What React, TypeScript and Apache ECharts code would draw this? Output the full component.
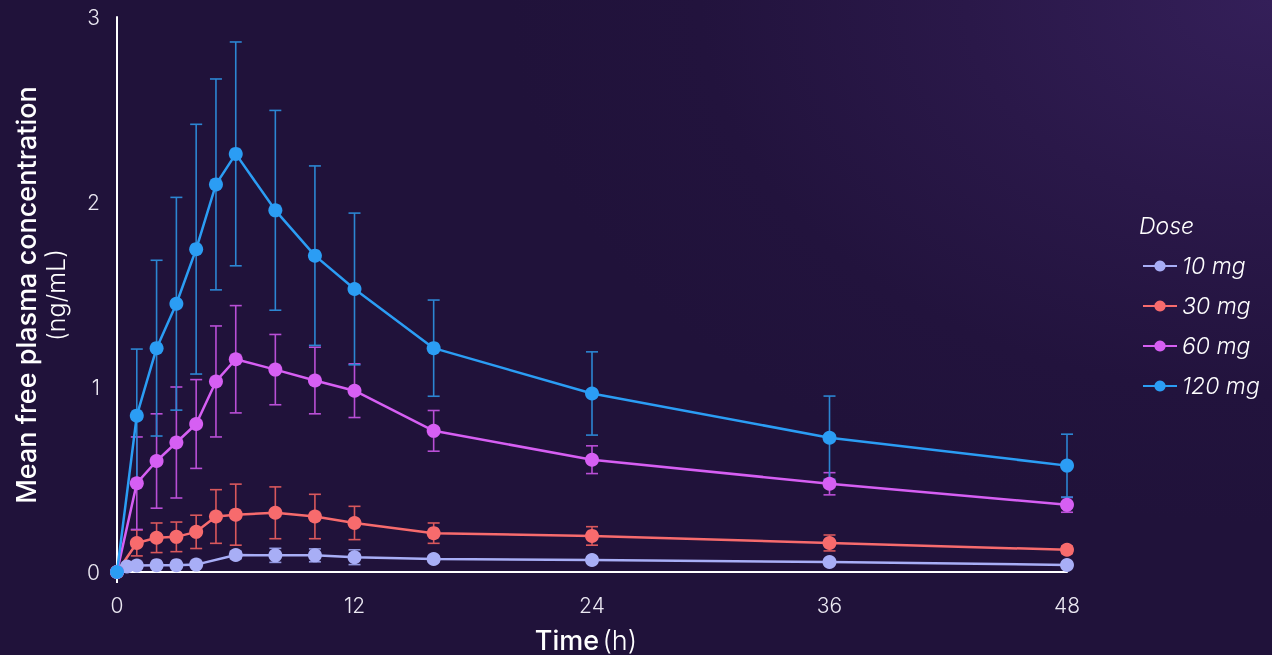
import React, { useEffect, useRef } from "react";
import * as echarts from "echarts";

const times = [0, 1, 2, 3, 4, 5, 6, 8, 10, 12, 16, 24, 36, 48];
const times10 = [0, 0.5, 1, 2, 3, 4, 6, 8, 10, 12, 16, 24, 36, 48];

const mean10 = [0, 0.03, 0.035, 0.037, 0.037, 0.04, 0.092, 0.09, 0.09, 0.08, 0.07, 0.065, 0.054, 0.038];
const sd10 = [0, 0.01, 0.01, 0.01, 0.01, 0.01, 0.02, 0.038, 0.035, 0.04, 0.015, 0.015, 0.01, 0.01];

const mean30 = [0, 0.157, 0.185, 0.19, 0.217, 0.3, 0.31, 0.32, 0.3, 0.265, 0.21, 0.195, 0.157, 0.12];
const sd30 = [0, 0.07, 0.08, 0.08, 0.09, 0.145, 0.165, 0.14, 0.12, 0.09, 0.055, 0.05, 0.043, 0.02];

const mean60 = [0, 0.48, 0.6, 0.7, 0.8, 1.03, 1.15, 1.094, 1.035, 0.98, 0.763, 0.607, 0.477, 0.363];
const sd60 = [0, 0.25, 0.255, 0.3, 0.24, 0.3, 0.29, 0.19, 0.18, 0.145, 0.11, 0.075, 0.06, 0.04];

const mean120 = [0, 0.845, 1.21, 1.45, 1.745, 2.095, 2.26, 1.955, 1.71, 1.53, 1.21, 0.965, 0.726, 0.575];
const sd120 = [0, 0.36, 0.475, 0.575, 0.675, 0.57, 0.605, 0.54, 0.485, 0.41, 0.26, 0.225, 0.225, 0.17];

const doseNames = ["10 mg", "30 mg", "60 mg", "120 mg"];
const doseColors = ["#a8aef6", "#f76b6d", "#d65ff3", "#2b9df4"];
const errColors = ["#8f95dc", "#d9585c", "#b94fd6", "#2c86d2"];

const xTicks = [0, 12, 24, 36, 48];
const yTicks = [0, 1, 2, 3];

const FONT = "Inter, 'Noto Sans', sans-serif";

export default function App() {
  const ref = useRef<HTMLDivElement>(null);
  useEffect(() => {
    if (!ref.current) return;
    const chart = echarts.init(ref.current, undefined, { renderer: "svg" });
    const groups = [
      { t: times10, m: mean10, s: sd10 },
      { t: times, m: mean30, s: sd30 },
      { t: times, m: mean60, s: sd60 },
      { t: times, m: mean120, s: sd120 },
    ];
    const series: any[] = [];
    groups.forEach((g, i) => {
      series.push({
        type: "custom",
        name: doseNames[i] + " SD",
        z: 1,
        silent: true,
        encode: { x: 0, y: [1, 2] },
        data: g.t.map((t, k) => [t, g.m[k] - g.s[k], g.m[k] + g.s[k]]),
        renderItem: (params: any, api: any) => {
          const lo = api.coord([api.value(0), api.value(1)]);
          const hi = api.coord([api.value(0), api.value(2)]);
          const w = 6;
          const st = { stroke: errColors[i], lineWidth: 1.6 };
          return {
            type: "group",
            children: [
              { type: "line", shape: { x1: lo[0], y1: lo[1], x2: hi[0], y2: hi[1] }, style: st },
              { type: "line", shape: { x1: lo[0] - w, y1: lo[1], x2: lo[0] + w, y2: lo[1] }, style: st },
              { type: "line", shape: { x1: hi[0] - w, y1: hi[1], x2: hi[0] + w, y2: hi[1] }, style: st },
            ],
          };
        },
      });
    });
    groups.forEach((g, i) => {
      series.push({
        type: "line",
        name: doseNames[i],
        z: 3,
        data: g.t.map((t, k) => [t, g.m[k]]),
        symbol: "circle",
        symbolSize: 14,
        showSymbol: true,
        lineStyle: { color: doseColors[i], width: 2.5 },
        itemStyle: { color: doseColors[i] },
      });
    });

    chart.setOption({
      animation: false,
      backgroundColor: "transparent",
      textStyle: { fontFamily: FONT },
      grid: { left: 117, right: 205, top: 17, bottom: 83, containLabel: false },
      xAxis: {
        type: "value",
        min: xTicks[0],
        max: xTicks[xTicks.length - 1],
        interval: 12,
        axisLine: { show: true, lineStyle: { color: "#ffffff", width: 2 } },
        axisTick: { show: false },
        splitLine: { show: false },
        axisLabel: { color: "#ebe8f2", fontSize: 21, fontWeight: 300, margin: 23, fontFamily: FONT },
      },
      yAxis: {
        type: "value",
        min: yTicks[0],
        max: yTicks[yTicks.length - 1],
        interval: 1,
        axisLine: { show: true, lineStyle: { color: "#ffffff", width: 2 } },
        axisTick: { show: false },
        splitLine: { show: false },
        axisLabel: { color: "#ebe8f2", fontSize: 21, fontWeight: 300, margin: 17, fontFamily: FONT },
      },
      legend: {
        data: doseNames,
        orient: "vertical",
        left: 1137,
        top: 249,
        itemWidth: 34,
        itemHeight: 14,
        itemGap: 16,
        textStyle: { color: "#ffffff", fontSize: 23, fontStyle: "italic", fontWeight: 300, lineHeight: 24, fontFamily: FONT },
      },
      graphic: [
        {
          type: "text",
          left: 1139,
          top: 214,
          style: { text: "Dose", fill: "#ffffff", font: `italic 300 23px ${FONT}` },
        },
        {
          type: "text",
          x: 26,
          y: 295,
          rotation: Math.PI / 2,
          style: {
            text: "Mean free plasma concentration",
            fill: "#ffffff",
            font: `500 27px ${FONT}`,
            align: "center",
            verticalAlign: "middle",
          },
        },
        {
          type: "text",
          x: 56,
          y: 295,
          rotation: Math.PI / 2,
          style: {
            text: "(ng/mL)",
            fill: "#ffffff",
            font: `300 25px ${FONT}`,
            align: "center",
            verticalAlign: "middle",
          },
        },
        {
          type: "text",
          x: 586,
          y: 640,
          style: {
            text: "{b|Time} {l|(h)}",
            align: "center",
            verticalAlign: "middle",
            rich: {
              b: { fill: "#ffffff", fontSize: 27, fontWeight: 500, fontFamily: FONT },
              l: { fill: "#ffffff", fontSize: 27, fontWeight: 300, fontFamily: FONT },
            },
          },
        },
        {
          type: "line",
          shape: { x1: 117, y1: 572, x2: 117, y2: 583 },
          style: { stroke: "#ffffff", lineWidth: 2 },
        },
      ],
      series,
    });
    return () => chart.dispose();
  }, []);
  return (
    <div
      ref={ref}
      style={{
        position: "fixed",
        left: 0,
        top: 0,
        width: 1272,
        height: 655,
        background:
          "radial-gradient(ellipse 60% 80% at 100% 0%, #341f59 0%, #2a1849 40%, #22133d 75%, #20123a 100%)",
      }}
    />
  );
}
